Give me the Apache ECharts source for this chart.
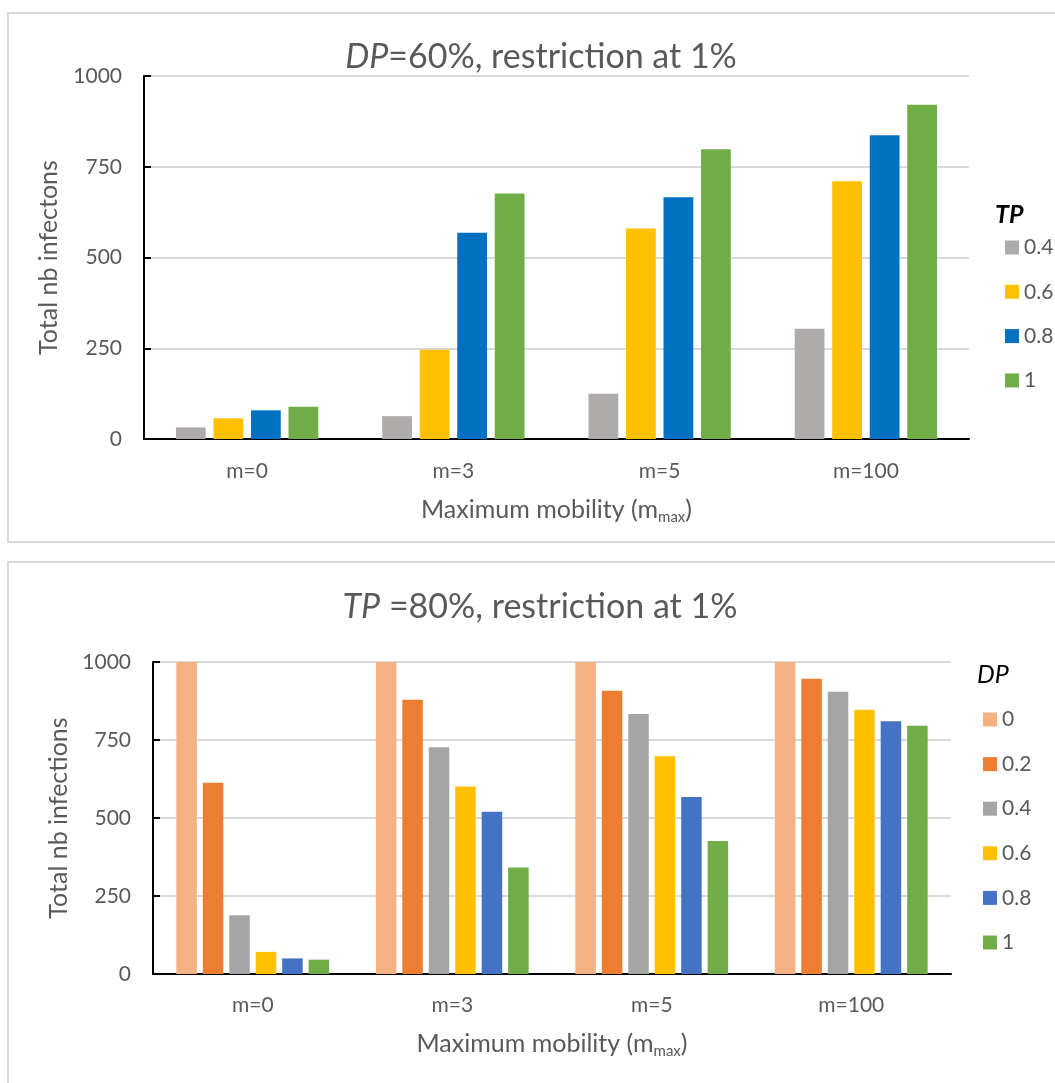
<!DOCTYPE html>
<html>
<head>
<meta charset="utf-8">
<script src="https://cdn.jsdelivr.net/npm/echarts@6/dist/echarts.min.js"></script>
<style>
  html, body { margin: 0; padding: 0; background: #ffffff; }
  body { width: 1055px; height: 1083px; position: relative; overflow: hidden; }
  .box { position: absolute; border: 2px solid #d9d9d9; box-sizing: border-box; }
  #box1 { left: 7px; top: 12px; width: 1100px; height: 531px; }
  #box2 { left: 7px; top: 561px; width: 1100px; height: 600px; }
  #c1 { position: absolute; left: 0; top: 0; width: 1055px; height: 545px; }
  #c2 { position: absolute; left: 0; top: 545px; width: 1055px; height: 538px; }
</style>
</head>
<body>
<div class="box" id="box1"></div>
<div class="box" id="box2"></div>
<div id="c1"></div>
<div id="c2"></div>
<script>
// ---- data ----
const categories = ['m=0', 'm=3', 'm=5', 'm=100'];
const yTicks = [0, 250, 500, 750, 1000];

// Top chart: DP = 60%, series by TP
const tpNames = ['0.4', '0.6', '0.8', '1'];
const tp04 = [32, 63, 125, 304];
const tp06 = [57, 246, 580, 710];
const tp08 = [79, 568, 666, 837];
const tp10 = [89, 676, 798, 921];
const tpColors = ['#AFABAB', '#FFC000', '#0070C0', '#70AD47'];

// Bottom chart: TP = 80%, series by DP
const dpNames = ['0', '0.2', '0.4', '0.6', '0.8', '1'];
const dp00 = [1000, 1000, 1000, 1000];
const dp02 = [613, 879, 908, 946];
const dp04 = [188, 727, 833, 905];
const dp06 = [71, 601, 698, 847];
const dp08 = [50, 520, 567, 810];
const dp10 = [46, 341, 426, 796];
const dpColors = ['#F4B183', '#ED7D31', '#A5A5A5', '#FFC000', '#4472C4', '#70AD47'];

const FONT = 'Lato, Carlito, "Open Sans", sans-serif';
const TXT = '#595959';

function buildOption(cfg) {
  const series = cfg.names.map((n, i) => ({
    name: n,
    type: 'bar',
    data: cfg.values[i],
    itemStyle: { color: cfg.colors[i] },
    barGap: cfg.barGap,
    barCategoryGap: cfg.barCategoryGap,
    emphasis: { disabled: true }
  }));
  return {
    animation: false,
    textStyle: { fontFamily: FONT },
    grid: { left: cfg.grid.left, top: cfg.grid.top, width: cfg.grid.width, height: cfg.grid.height, containLabel: false },
    xAxis: {
      type: 'category',
      data: categories,
      axisLine: { lineStyle: { color: '#000000', width: 2 } },
      axisTick: { show: false },
      axisLabel: { color: TXT, fontSize: 21, fontFamily: FONT, margin: cfg.xLabelMargin, lineHeight: 21 },
      name: 'Maximum mobility (m{sub|max})',
      nameLocation: 'middle',
      nameGap: cfg.xNameGap,
      nameTextStyle: {
        color: TXT, fontSize: 25, fontFamily: FONT, lineHeight: 30,
        rich: { sub: { color: TXT, fontSize: 15, fontFamily: FONT, lineHeight: 15, verticalAlign: 'bottom' } }
      }
    },
    yAxis: {
      type: 'value',
      min: yTicks[0],
      max: yTicks[yTicks.length - 1],
      interval: yTicks[1] - yTicks[0],
      axisLine: { show: true, lineStyle: { color: '#000000', width: 2 } },
      axisTick: { show: true, inside: true, length: 7, lineStyle: { color: '#000000', width: 2 } },
      splitLine: { show: true, lineStyle: { color: '#D9D9D9', width: 2 } },
      axisLabel: { color: TXT, fontSize: 21, fontFamily: FONT, margin: 22, formatter: v => String(v) },
      name: cfg.yName,
      nameLocation: 'middle',
      nameGap: cfg.yNameGap,
      nameTextStyle: { color: TXT, fontSize: 25, fontFamily: FONT, lineHeight: 25 }
    },
    legend: {
      orient: 'vertical',
      left: cfg.legend.left,
      top: cfg.legend.top,
      itemWidth: 14,
      itemHeight: 14,
      itemGap: cfg.legend.gap,
      icon: 'rect',
      data: cfg.names,
      selectedMode: false,
      textStyle: { color: TXT, fontSize: 21, fontFamily: FONT, lineHeight: 20 }
    },
    graphic: [
      {
        type: 'text',
        x: cfg.title.x, y: cfg.title.y,
        style: {
          text: cfg.title.text,
          fill: TXT, fontSize: 34, fontFamily: FONT,
          align: 'center', verticalAlign: 'middle',
          rich: { i: { fill: TXT, fontSize: 34, fontFamily: FONT, fontStyle: 'italic' } }
        }
      },
      {
        type: 'text',
        x: cfg.legTitle.x, y: cfg.legTitle.y,
        style: {
          text: cfg.legTitle.text,
          fill: '#000000', fontSize: 25, fontFamily: FONT,
          fontStyle: 'italic', fontWeight: cfg.legTitle.bold ? 'bold' : 'normal',
          align: 'left', verticalAlign: 'middle'
        }
      }
    ],
    series: series
  };
}

const chart1 = echarts.init(document.getElementById('c1'), null, { renderer: 'canvas' });
chart1.setOption(buildOption({
  names: tpNames,
  values: [tp04, tp06, tp08, tp10],
  colors: tpColors,
  barGap: '26%',
  barCategoryGap: '31%',
  grid: { left: 144, top: 76, width: 825, height: 363 },
  xLabelMargin: 22,
  xNameGap: 56,
  yName: 'Total nb infectons',
  yNameGap: 83,
  legend: { left: 1000, top: 232, gap: 23.3 },
  title: { x: 541, y: 57, text: '{i|DP}=60%, restriction at 1%' },
  legTitle: { x: 995, y: 215, text: 'TP', bold: true }
}));

const chart2 = echarts.init(document.getElementById('c2'), null, { renderer: 'canvas' });
chart2.setOption(buildOption({
  names: dpNames,
  values: [dp00, dp02, dp04, dp06, dp08, dp10],
  colors: dpColors,
  barGap: '29%',
  barCategoryGap: '23.4%',
  grid: { left: 153, top: 117, width: 798, height: 312 },
  xLabelMargin: 21,
  xNameGap: 55,
  yName: 'Total nb infections',
  yNameGap: 82,
  legend: { left: 978, top: 159, gap: 23.6 },
  title: { x: 540, y: 62, text: '{i|TP} =80%, restriction at 1%' },
  legTitle: { x: 977, y: 130, text: 'DP', bold: false }
}));
</script>
</body>
</html>
